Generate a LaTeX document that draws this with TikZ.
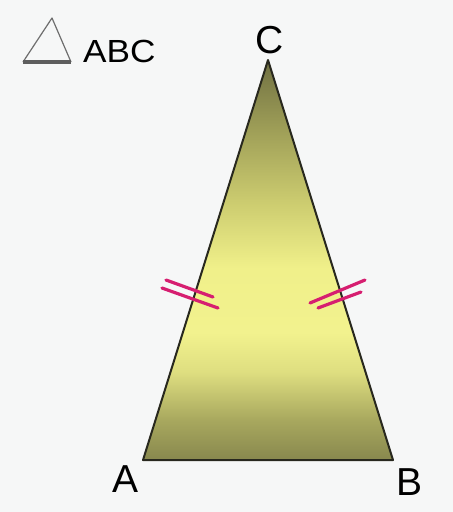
\documentclass[tikz,border=0pt]{standalone}
\usepackage{fontspec}
\setmainfont{Liberation Sans}
\definecolor{bgc}{RGB}{246,247,247}
\definecolor{tickc}{RGB}{214,30,112}
\definecolor{edgec}{RGB}{40,40,30}
\definecolor{iconc}{RGB}{110,110,110}
\pgfdeclareverticalshading{trishade}{100bp}{%
  color(0bp)=(rgb,255:red,136;green,136;blue,78);
  color(25bp)=(rgb,255:red,136;green,136;blue,78);
  color(30bp)=(rgb,255:red,168;green,168;blue,94);
  color(36bp)=(rgb,255:red,222;green,222;blue,128);
  color(41bp)=(rgb,255:red,242;green,242;blue,142);
  color(49bp)=(rgb,255:red,240;green,240;blue,138);
  color(57bp)=(rgb,255:red,205;green,205;blue,112);
  color(66bp)=(rgb,255:red,160;green,160;blue,88);
  color(75bp)=(rgb,255:red,112;green,112;blue,66);
  color(100bp)=(rgb,255:red,112;green,112;blue,66)}
\tikzset{
  vlabel/.style={anchor=base,inner sep=0pt,font=\fontsize{39}{39}\selectfont},
  ticks/.style={draw=tickc,line width=3.2pt,line cap=round},
  edge/.style={draw=edgec,line width=2pt,line join=round},
}
\begin{document}
\begin{tikzpicture}[x=1pt,y=-1pt]
\fill[bgc] (0,0) rectangle (453,512);
\useasboundingbox (0,0) rectangle (453,512);
% icon
\coordinate (i1) at (23,62);
\coordinate (i2) at (52,18);
\coordinate (i3) at (71,62);
\draw[iconc,line width=1.2pt,line join=round] (i1) -- (i2) -- (i3);
\draw[iconc!85!black,line width=3.2pt] (i1) -- (i3);
\node[anchor=base west,inner sep=0pt,font=\fontsize{32}{32}\selectfont,xscale=1.1] (abc) at (83,62) {ABC};
% triangle
\coordinate (A) at (143,460);
\coordinate (B) at (393,460);
\coordinate (C) at (268,60);
\path[shading=trishade] (A) -- (B) -- (C) -- cycle;
\draw[edge] (A) -- (B) -- (C) -- cycle;
\draw[edgec,line width=2.4pt] (A) -- (B);
% labels
\node[vlabel] (lA) at (126,492) {A};
\node[vlabel] (lB) at (410,495) {B};
\node[vlabel] (lC) at (270,53) {C};
% tick marks
\coordinate (l1a) at (166,280); \coordinate (l1b) at (213,297);
\coordinate (l2a) at (162,288); \coordinate (l2b) at (218,308);
\coordinate (r1a) at (365,280); \coordinate (r1b) at (310,303);
\coordinate (r2a) at (361,292); \coordinate (r2b) at (318,308);
\draw[ticks] (l1a) -- (l1b);
\draw[ticks] (l2a) -- (l2b);
\draw[ticks] (r1a) -- (r1b);
\draw[ticks] (r2a) -- (r2b);
\end{tikzpicture}
\end{document}
